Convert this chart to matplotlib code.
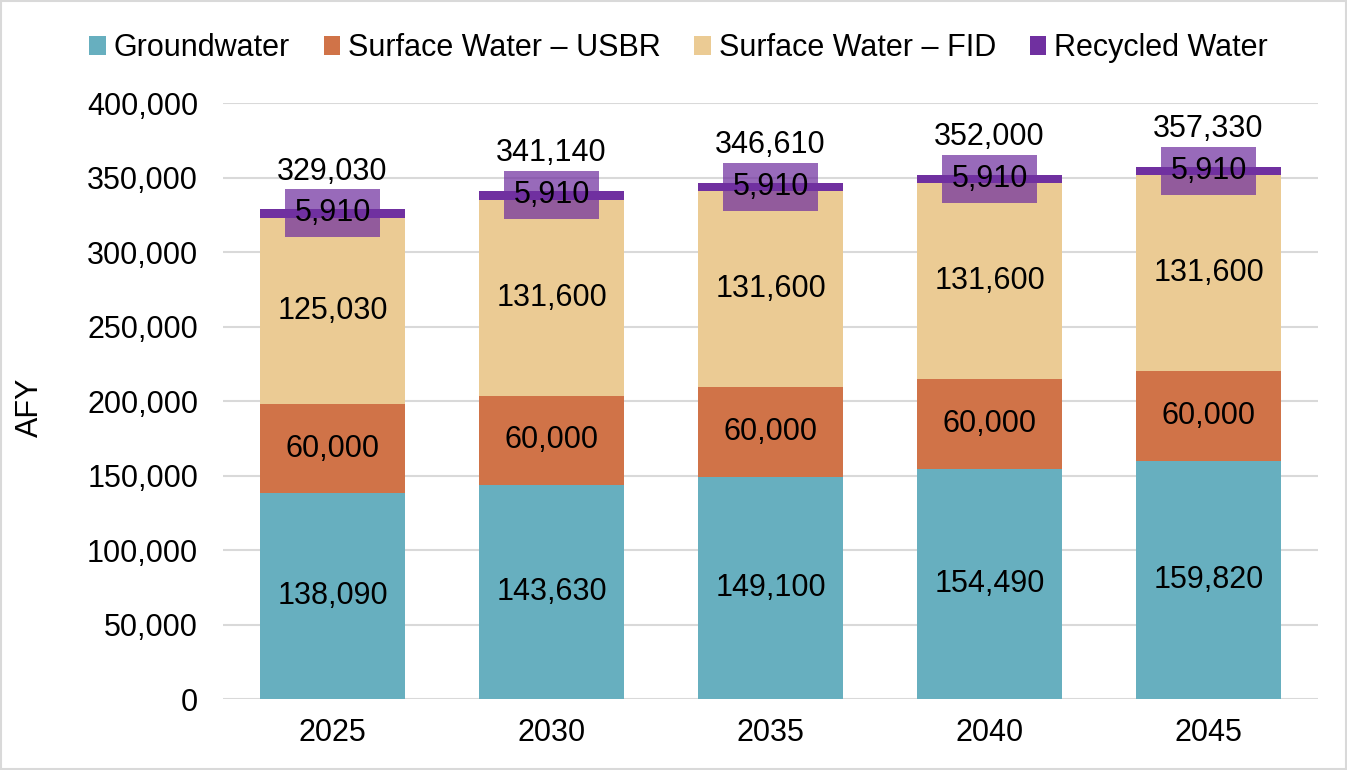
import numpy as np
import matplotlib.pyplot as plt
from matplotlib.patches import Rectangle

plt.rcParams['font.family'] = ['Liberation Sans', 'DejaVu Sans']

years = ['2025', '2030', '2035', '2040', '2045']
groundwater = [138090, 143630, 149100, 154490, 159820]
usbr = [60000, 60000, 60000, 60000, 60000]
fid = [125030, 131600, 131600, 131600, 131600]
recycled = [5910, 5910, 5910, 5910, 5910]
totals = [329030, 341140, 346610, 352000, 357330]

c_gw = '#67AFBF'
c_usbr = '#D07348'
c_fid = '#EBCB94'
c_rec = '#7030A0'

fig = plt.figure(figsize=(13.47, 7.70), dpi=100)
ax = fig.add_axes([0.1656, 0.0922, 0.8129, 0.7740])
fig.patches.append(Rectangle((0.001, 0.001), 0.998, 0.998, transform=fig.transFigure,
                             fill=False, edgecolor='#D9D9D9', linewidth=1.5))

x = np.arange(len(years))
w = 0.66
gw = np.array(groundwater)
us = np.array(usbr)
fd = np.array(fid)
rc = np.array(recycled)

b1 = ax.bar(x, gw, w, color=c_gw, label='Groundwater', zorder=2)
b2 = ax.bar(x, us, w, bottom=gw, color=c_usbr, label='Surface Water – USBR', zorder=2)
b3 = ax.bar(x, fd, w, bottom=gw + us, color=c_fid, label='Surface Water – FID', zorder=2)
b4 = ax.bar(x, rc, w, bottom=gw + us + fd, color=c_rec, label='Recycled Water', zorder=2)

fs = 22
for i in range(len(years)):
    ax.text(x[i], gw[i] / 2, f'{groundwater[i]:,}', ha='center', va='center', fontsize=fs, zorder=3)
    ax.text(x[i], gw[i] + us[i] / 2, f'{usbr[i]:,}', ha='center', va='center', fontsize=fs, zorder=3)
    ax.text(x[i], gw[i] + us[i] + fd[i] / 2, f'{fid[i]:,}', ha='center', va='center', fontsize=fs, zorder=3)
    ax.text(x[i], gw[i] + us[i] + fd[i] + rc[i] / 2, f'{recycled[i]:,}', ha='center', va='center',
            fontsize=fs, zorder=4,
            bbox=dict(boxstyle='square,pad=0.3', facecolor=c_rec, alpha=0.72, edgecolor='none'))
    ax.text(x[i], totals[i] + 25000, f'{totals[i]:,}', ha='center', va='center', fontsize=fs, zorder=3)

ax.set_ylim(0, 400000)
ax.set_xlim(-0.5, len(years) - 0.5)
ax.set_yticks(np.arange(0, 400001, 50000))
ax.yaxis.set_major_formatter(plt.FuncFormatter(lambda v, p: f'{int(v):,}'))
ax.set_xticks(x)
ax.set_xticklabels(years)
ax.tick_params(axis='y', length=0, labelsize=fs, pad=18)
ax.tick_params(axis='x', length=0, labelsize=fs, pad=14)
ax.grid(axis='y', color='#D9D9D9', linewidth=1.5, zorder=0)
for s in ax.spines.values():
    s.set_visible(False)
ax.set_ylabel('AFY', fontsize=fs)
ax.yaxis.set_label_coords(-0.163, 0.49)

ax.legend(loc='center', bbox_to_anchor=(0.416, 1.092), ncol=4, frameon=False, fontsize=fs,
          handlelength=0.55, handleheight=0.55, handletextpad=0.25, columnspacing=1.1)

fig.savefig('out.png', dpi=100)
